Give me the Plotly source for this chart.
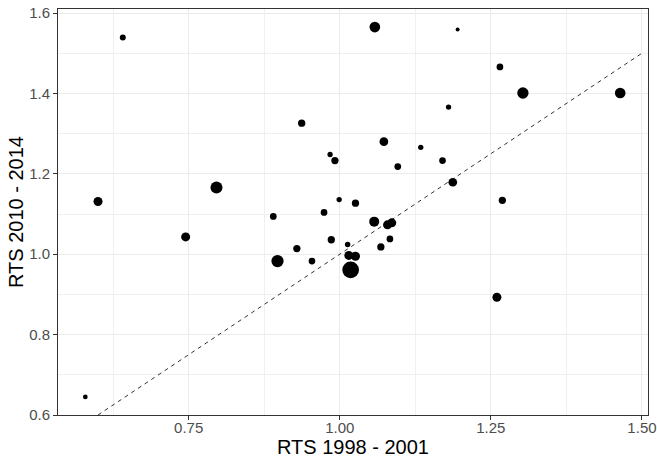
import numpy as np
import plotly.graph_objects as go

# RTS values for each unit (x: 1998-2001, y: 2010-2014) and a size weight
rts_1998_2001 = [0.641, 0.600, 0.579, 0.745, 0.796, 0.937, 1.058, 1.073, 1.134, 0.984,
                 0.992, 1.096, 0.890, 0.974, 0.999, 1.026, 1.057, 1.079, 1.086, 1.083,
                 1.068, 1.013, 0.986, 0.929, 0.897, 0.954, 1.015, 1.026, 1.018, 1.265,
                 1.195, 1.180, 1.303, 1.464, 1.170, 1.187, 1.269, 1.260]
rts_2010_2014 = [1.539, 1.131, 0.645, 1.043, 1.166, 1.326, 1.565, 1.280, 1.266, 1.248,
                 1.233, 1.218, 1.094, 1.104, 1.136, 1.127, 1.081, 1.073, 1.078, 1.038,
                 1.018, 1.024, 1.036, 1.014, 0.983, 0.983, 0.997, 0.995, 0.961, 1.466,
                 1.559, 1.366, 1.401, 1.401, 1.233, 1.179, 1.134, 0.893]
weight = [36, 81, 22, 81, 144, 53, 114, 76, 28, 28,
          53, 45, 45, 45, 28, 53, 100, 81, 81, 45,
          53, 30, 53, 53, 151, 45, 81, 81, 279, 45,
          16, 28, 128, 114, 45, 76, 53, 81]

x_ticks = [0.75, 1.00, 1.25, 1.50]
y_ticks = [0.6, 0.8, 1.0, 1.2, 1.4, 1.6]
ref_line = [0.6, 1.5]

FONT = "Liberation Sans, Arial, sans-serif"

fig = go.Figure()
fig.add_trace(go.Scatter(
    x=ref_line, y=ref_line, mode="lines",
    line=dict(color="#333333", width=1, dash="4px,4px"),
    hoverinfo="skip", showlegend=False))
fig.add_trace(go.Scatter(
    x=rts_1998_2001, y=rts_2010_2014, mode="markers",
    marker=dict(color="black", opacity=1,
                size=np.sqrt(np.array(weight, dtype=float)), line=dict(width=0)),
    showlegend=False))

axis_common = dict(
    showline=True, linecolor="#333333", linewidth=1, mirror=True,
    ticks="outside", ticklen=4, tickcolor="#333333", tickwidth=1,
    showgrid=True, gridcolor="#EBEBEB", gridwidth=1,
    zeroline=False, automargin=False,
    tickfont=dict(family=FONT, size=15, color="#4D4D4D"),
    title_font=dict(family=FONT, size=20, color="black"),
)

fig.update_layout(
    width=657, height=458,
    margin=dict(l=58, r=9, t=9, b=43, autoexpand=False),
    paper_bgcolor="white", plot_bgcolor="white",
    xaxis=dict(range=[0.5338, 1.510], tickvals=x_ticks, tickformat=".2f",
               ticklabelstandoff=-5,
               title=dict(text="RTS 1998 - 2001", standoff=5),
               minor=dict(tickvals=[0.625, 0.875, 1.125, 1.375], showgrid=True,
                          gridcolor="#F0F0F0", gridwidth=1, ticks=""),
               **axis_common),
    yaxis=dict(range=[0.6, 1.61], tickvals=y_ticks, tickformat=".1f",
               title=dict(text="RTS 2010 - 2014", standoff=0),
               minor=dict(tickvals=[0.7, 0.9, 1.1, 1.3, 1.5], showgrid=True,
                          gridcolor="#F0F0F0", gridwidth=1, ticks=""),
               **axis_common),
)

fig.write_html("out.html", config={"displayModeBar": False},
               post_script="document.body.style.margin='0';")
